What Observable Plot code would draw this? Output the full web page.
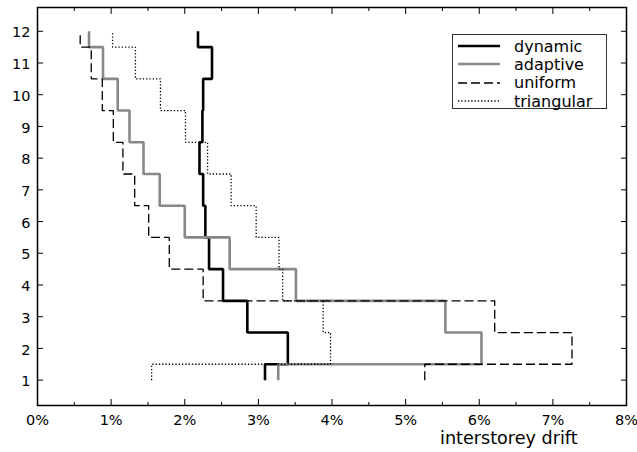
<!DOCTYPE html>
<html><head><meta charset="utf-8">
<script src="https://cdn.jsdelivr.net/npm/d3@7"></script>
<script src="https://cdn.jsdelivr.net/npm/@observablehq/plot@0.6"></script>
<style>
body{margin:0;background:#fff;font-family:"DejaVu Sans",sans-serif;}
#wrap{position:relative;width:637px;height:452px;}
#legend{position:absolute;left:452px;top:34px;width:155px;height:75px;border:1px solid #333;background:#fff;box-sizing:border-box;font-size:16px;color:#000;}
#legend .row{position:absolute;left:0;height:18px;display:flex;align-items:center;}
#legend svg{margin-left:5px;margin-right:14px;}
#xlabel{position:absolute;left:440px;top:428px;font-size:17.6px;line-height:1.164;color:#000;white-space:nowrap;}
</style></head><body><div id="wrap"></div>
<script>
const storeys = [1, 2, 3, 4, 5, 6, 7, 8, 9, 10, 11, 12];
const dynamic = [3.09, 3.40, 2.85, 2.52, 2.33, 2.28, 2.25, 2.20, 2.24, 2.25, 2.37, 2.18];
const adaptive = [3.27, 6.03, 5.54, 3.51, 2.61, 2.00, 1.66, 1.44, 1.25, 1.09, 0.89, 0.70];
const uniform = [5.26, 7.26, 6.21, 2.25, 1.79, 1.51, 1.32, 1.16, 1.03, 0.88, 0.73, 0.58];
const triangular = [1.55, 3.98, 3.88, 3.33, 3.28, 2.97, 2.63, 2.31, 2.01, 1.67, 1.33, 1.02];
const seriesNames = ["dynamic", "adaptive", "uniform", "triangular"];
const xTicks = [0, 1, 2, 3, 4, 5, 6, 7, 8];
const xMinorTicks = [0.5, 1.5, 2.5, 3.5, 4.5, 5.5, 6.5, 7.5];
const yTicks = [1, 2, 3, 4, 5, 6, 7, 8, 9, 10, 11, 12];

const styles = {
  dynamic: {stroke: "#000", strokeWidth: 2.6},
  adaptive: {stroke: "#888", strokeWidth: 2.6},
  uniform: {stroke: "#000", strokeWidth: 1.3, strokeDasharray: "9,4"},
  triangular: {stroke: "#000", strokeWidth: 1.3, strokeDasharray: "1.3,2"}
};
const valuesBy = {dynamic, adaptive, uniform, triangular};
const topStorey = storeys[storeys.length - 1], bottomStorey = storeys[0];

function stepRows(vals) {
  return storeys.flatMap((s, i) => [
    {x: vals[i], y: Math.max(bottomStorey, s - 0.5)},
    {x: vals[i], y: Math.min(topStorey, s + 0.5)}
  ]);
}

const lineMarks = seriesNames.map(n => Plot.line(stepRows(valuesBy[n]), {
  x: "x", y: "y", strokeLinejoin: "miter", strokeLinecap: "butt", ...styles[n]
}));

const chart = Plot.plot({
  width: 637, height: 452,
  marginLeft: 37, marginRight: 11, marginTop: 7, marginBottom: 47,
  style: {fontFamily: "DejaVu Sans", fontSize: "14.5px", color: "#000", background: "#fff", overflow: "visible"},
  x: {domain: [0, 8]},
  y: {domain: [0.2, 12.75]},
  marks: [
    ...lineMarks,
    Plot.frame({stroke: "#000", strokeWidth: 1.5}),
    Plot.axisX(xTicks, {anchor: "bottom", tickSize: -6, fill: "none", label: null}),
    Plot.axisX(xTicks, {anchor: "top", tickSize: -6, fill: "none", label: null}),
    Plot.axisX(xMinorTicks, {anchor: "bottom", tickSize: -3, fill: "none", label: null}),
    Plot.axisX(xMinorTicks, {anchor: "top", tickSize: -3, fill: "none", label: null}),
    Plot.axisX(xTicks, {anchor: "bottom", tickSize: 0, tickPadding: 9, tickFormat: d => d + "%", label: null}),
    Plot.axisY(yTicks, {anchor: "left", tickSize: -6, fill: "none", label: null}),
    Plot.axisY(yTicks, {anchor: "right", tickSize: -6, fill: "none", label: null}),
    Plot.axisY(yTicks, {anchor: "left", tickSize: 0, tickPadding: 7, dy: 1.5, label: null})
  ]
});
const wrap = document.getElementById("wrap");
wrap.appendChild(chart);

const legend = document.createElement("div");
legend.id = "legend";
seriesNames.forEach((n, i) => {
  const row = document.createElement("div");
  row.className = "row";
  row.style.top = (2 + i * 18.4) + "px";
  const st = styles[n];
  row.innerHTML = `<svg width="42" height="10"><line x1="0" x2="42" y1="5" y2="5" stroke="${st.stroke}" stroke-width="${st.strokeWidth}" ${st.strokeDasharray ? `stroke-dasharray="${st.strokeDasharray}"` : ""}/></svg><span>${n}</span>`;
  legend.appendChild(row);
});
wrap.appendChild(legend);

const xl = document.createElement("div");
xl.id = "xlabel";
xl.textContent = "interstorey drift";
wrap.appendChild(xl);
</script>
</body></html>
